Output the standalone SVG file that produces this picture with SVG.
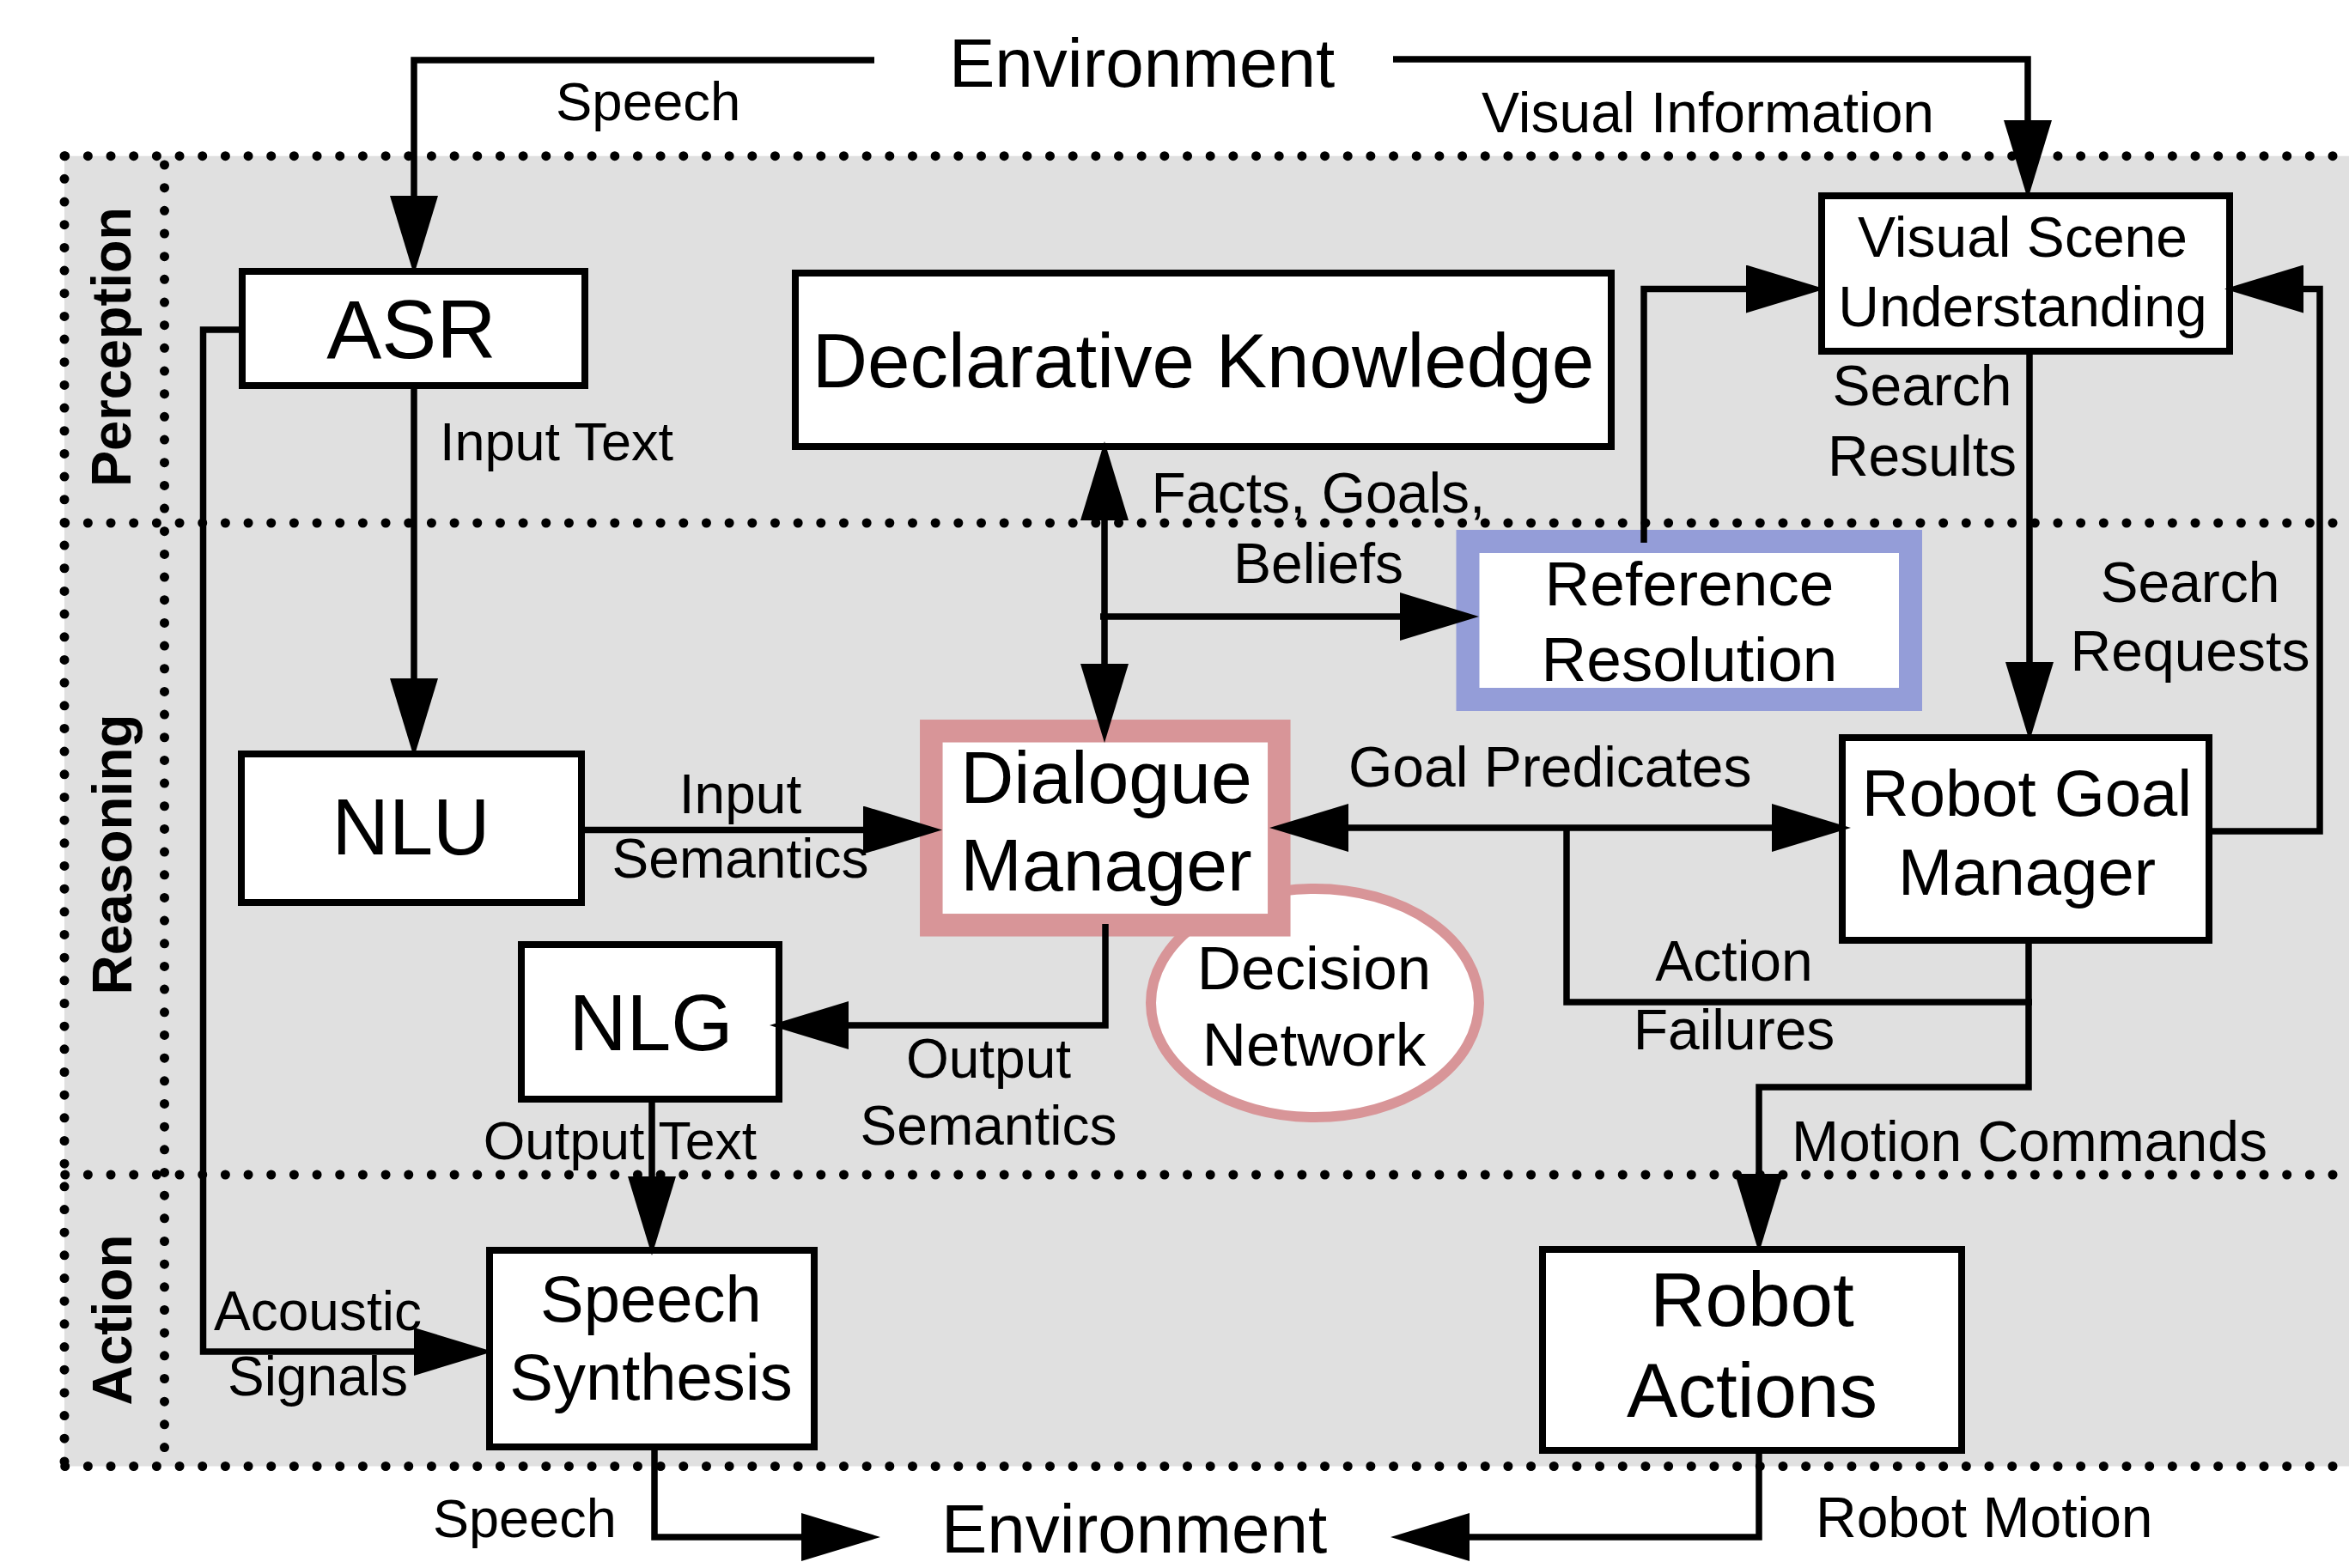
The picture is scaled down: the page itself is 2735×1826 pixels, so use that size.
<svg xmlns="http://www.w3.org/2000/svg" width="2735" height="1826" viewBox="0 0 2735 1826">
<defs>
<style>
.box{fill:#fff;stroke:#000;stroke-width:8}
.nt{font-family:"Liberation Sans",Arial,sans-serif;fill:#000;text-anchor:middle}
.lb{font-family:"Liberation Sans",Arial,sans-serif;fill:#000;font-size:66px}
.lbm{font-family:"Liberation Sans",Arial,sans-serif;fill:#000;font-size:66px;text-anchor:middle}
.env{font-family:"Liberation Sans",Arial,sans-serif;fill:#000;font-size:80px}
.lane{font-family:"Liberation Sans",Arial,sans-serif;font-weight:bold;font-size:64px;fill:#000;text-anchor:middle}
.dot{fill:none;stroke:#000;stroke-width:11;stroke-linecap:round;stroke-dasharray:0 26.67}
.c{fill:none;stroke:#000;stroke-width:7.5;stroke-linejoin:miter;stroke-linecap:butt}
.a{marker-end:url(#arr)}
.aa{marker-start:url(#arr);marker-end:url(#arr)}
</style>
<marker id="arr" viewBox="0 0 92 56" refX="72" refY="28" markerWidth="92" markerHeight="56" markerUnits="userSpaceOnUse" orient="auto-start-reverse">
<path d="M0,0 L92,28 L0,56 z" fill="#000"/>
</marker>
</defs>

<g id="background">
<rect x="75" y="181.7" width="2660" height="1525.8" fill="#e0e0e0"/>
<line class="dot" x1="75.7" y1="181.7" x2="2735" y2="181.7"/>
<line class="dot" x1="75.7" y1="609" x2="2735" y2="609"/>
<line class="dot" x1="75.7" y1="1368" x2="2735" y2="1368"/>
<line class="dot" x1="75.7" y1="1707.5" x2="2735" y2="1707.5"/>
<line class="dot" x1="75" y1="181.7" x2="75" y2="1707.5"/>
<line class="dot" x1="191.5" y1="192" x2="191.5" y2="1707.5"/>
<text class="lane" transform="translate(152,404) rotate(-90)" textLength="326" lengthAdjust="spacingAndGlyphs">Perception</text>
<text class="lane" transform="translate(153,995) rotate(-90)">Reasoning</text>
<text class="lane" transform="translate(153,1537) rotate(-90)">Action</text>
</g>

<g id="env-top"><text class="env" x="1105" y="101">Environment</text></g>
<g id="env-bottom"><text class="env" x="1096" y="1808">Environment</text></g>

<g id="asr"><rect class="box" x="282" y="316" width="399" height="133"/><text class="nt" x="479" y="417" font-size="96">ASR</text></g>
<g id="declarative-knowledge"><rect class="box" x="926" y="318" width="950" height="202"/><text class="nt" x="1401" y="451" font-size="89">Declarative Knowledge</text></g>
<g id="visual-scene-understanding"><rect class="box" x="2121" y="228" width="475" height="181"/><text class="nt" x="2355" y="299" font-size="66">Visual Scene</text><text class="nt" x="2355" y="380" font-size="66">Understanding</text></g>
<g id="reference-resolution"><rect x="1709" y="630.5" width="515.5" height="184" fill="#fff" stroke="#949dd8" stroke-width="27"/><text class="nt" x="1967" y="705" font-size="73">Reference</text><text class="nt" x="1967" y="793" font-size="73">Resolution</text></g>
<g id="decision-network"><ellipse cx="1531" cy="1168" rx="191" ry="133" fill="#fff" stroke="#d89598" stroke-width="12"/><text class="nt" x="1530" y="1152" font-size="71">Decision</text><text class="nt" x="1530" y="1241" font-size="71">Network</text></g>
<g id="dialogue-manager"><rect x="1084.3" y="851.3" width="405" height="226" fill="#fff" stroke="#d89598" stroke-width="26.5"/><text class="nt" x="1288" y="935" font-size="86">Dialogue</text><text class="nt" x="1288" y="1037" font-size="86">Manager</text></g>
<g id="nlu"><rect class="box" x="281" y="878" width="396" height="173"/><text class="nt" x="478.5" y="995" font-size="92">NLU</text></g>
<g id="nlg"><rect class="box" x="607" y="1100" width="300" height="180"/><text class="nt" x="758" y="1223" font-size="93">NLG</text></g>
<g id="robot-goal-manager"><rect class="box" x="2145" y="859" width="427" height="236"/><text class="nt" x="2360" y="950" font-size="76">Robot Goal</text><text class="nt" x="2360" y="1042" font-size="76">Manager</text></g>
<g id="speech-synthesis"><rect class="box" x="570" y="1456" width="378" height="229"/><text class="nt" x="758" y="1539" font-size="76">Speech</text><text class="nt" x="758" y="1630" font-size="76">Synthesis</text></g>
<g id="robot-actions"><rect class="box" x="1796" y="1455" width="488" height="234"/><text class="nt" x="2040" y="1544" font-size="89">Robot</text><text class="nt" x="2040" y="1650" font-size="89">Actions</text></g>

<g id="connectors">
<path class="c a" d="M1018 70 H482 V300"/>
<path class="c a" d="M1622 69 H2361 V212"/>
<path class="c a" d="M482 453 V862"/>
<path class="c a" d="M279 384 H236.5 V1574 H554"/>
<path class="c a" d="M681 966.5 H1077"/>
<path class="c aa" d="M1286 534 V845"/>
<path class="c a" d="M1281 718 H1702"/>
<path class="c a" d="M1914 632 V336.5 H2105"/>
<path class="c a" d="M2576 968 H2701 V336.5 H2610"/>
<path class="c a" d="M2363 413 V843"/>
<path class="c aa" d="M1498 964 H2135"/>
<path class="c" d="M1824 964 V1167 H2366"/>
<path class="c a" d="M2362 1099 V1266 H2048 V1439"/>
<path class="c a" d="M1287 1076 V1194 H916"/>
<path class="c a" d="M759 1276 V1442"/>
<path class="c a" d="M762 1689 V1790 H1005"/>
<path class="c a" d="M2048 1693 V1790 H1639"/>
</g>

<g id="labels">
<text class="lb" x="647" y="140" style="font-size:63.5px">Speech</text>
<text class="lb" x="1725" y="154">Visual Information</text>
<text class="lb" x="512" y="536" style="font-size:63px">Input Text</text>
<text class="lbm" x="370" y="1549" style="font-size:64px">Acoustic</text>
<text class="lbm" x="370" y="1625" style="font-size:64px">Signals</text>
<text class="lbm" x="862" y="947" style="font-size:64px">Input</text>
<text class="lbm" x="862" y="1022" style="font-size:64px">Semantics</text>
<text class="lbm" x="1535" y="597">Facts, Goals,</text>
<text class="lbm" x="1535" y="679">Beliefs</text>
<text class="lbm" x="2238" y="472">Search</text>
<text class="lbm" x="2238" y="554">Results</text>
<text class="lbm" x="2550" y="701">Search</text>
<text class="lbm" x="2550" y="781">Requests</text>
<text class="lb" x="1570" y="916">Goal Predicates</text>
<text class="lbm" x="2019" y="1142">Action</text>
<text class="lbm" x="2019" y="1222">Failures</text>
<text class="lb" x="2086" y="1352">Motion Commands</text>
<text class="lbm" x="1151" y="1255" style="font-size:64px">Output</text>
<text class="lbm" x="1151" y="1333" style="font-size:64px">Semantics</text>
<text class="lbm" x="722" y="1350" style="font-size:62.5px">Output Text</text>
<text class="lb" x="504" y="1790" style="font-size:63px">Speech</text>
<text class="lb" x="2114" y="1790">Robot Motion</text>
</g>
</svg>
